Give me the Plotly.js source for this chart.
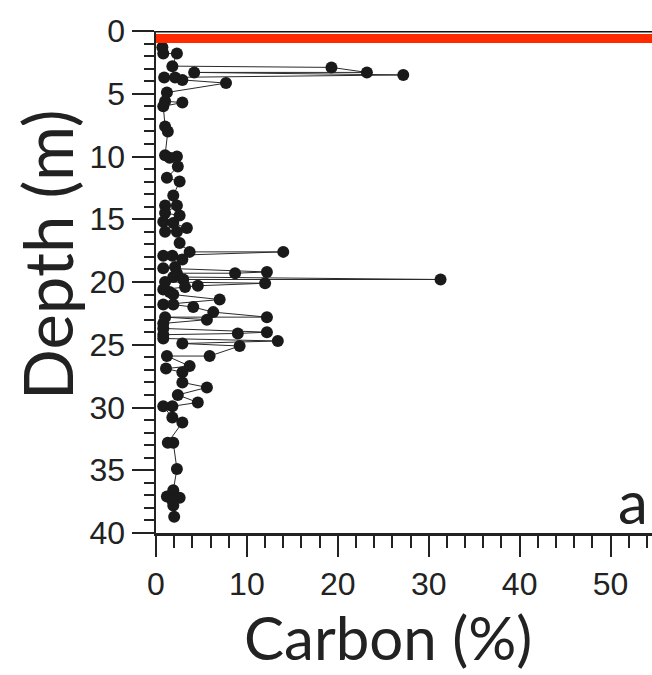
<!DOCTYPE html>
<html>
<head>
<meta charset="utf-8">
<script src="https://cdn.plot.ly/plotly-3.0.1.min.js"></script>
<style>html,body{margin:0;padding:0;background:#fff;}#chart{width:652px;height:675px;}</style>
</head>
<body>
<div id="chart"></div>
<script>
// Depth (m) and Carbon (%), in sampling order
const depth = [1.3, 1.8, 1.8, 2.8, 2.9, 3.3, 3.3, 3.5, 3.7, 3.7, 3.9, 4.15, 4.9, 5.6, 5.7, 6.0, 7.6, 8.0, 9.9, 10.0, 10.1, 10.8, 11.7, 12.0, 13.1, 13.9, 13.9, 14.5, 14.7, 15.2, 15.3, 15.7, 16.0, 16.0, 16.9, 17.6, 17.6, 17.9, 17.9, 18.2, 18.8, 18.9, 19.2, 19.3, 19.3, 19.6, 19.8, 19.8, 20.0, 20.1, 20.3, 20.4, 20.6, 20.8, 21.0, 21.4, 21.8, 21.8, 22.0, 22.4, 22.8, 22.8, 23.0, 23.3, 23.7, 24.0, 24.1, 24.2, 24.5, 24.7, 24.9, 25.1, 25.9, 25.9, 26.7, 26.9, 27.2, 28.0, 28.4, 29.0, 29.6, 29.9, 29.9, 30.8, 31.2, 32.8, 32.8, 34.9, 36.6, 37.1, 37.2, 37.4, 37.8, 38.7];
const carbon = [0.7, 0.8, 2.3, 1.8, 19.3, 23.2, 4.2, 27.2, 0.9, 2.1, 2.9, 7.7, 1.2, 1.0, 2.9, 0.8, 1.0, 1.3, 1.0, 2.3, 1.5, 2.4, 1.2, 2.6, 1.9, 1.0, 2.3, 1.0, 2.6, 0.8, 1.9, 3.4, 1.0, 2.3, 2.6, 3.7, 14.0, 0.8, 1.8, 2.9, 2.1, 0.8, 12.2, 8.7, 2.3, 1.9, 31.3, 3.0, 1.0, 12.0, 4.6, 3.2, 0.8, 1.5, 1.9, 7.0, 0.8, 1.9, 4.1, 6.3, 12.2, 1.0, 5.6, 0.8, 0.8, 12.2, 9.0, 0.8, 0.8, 13.4, 2.9, 9.2, 5.9, 1.2, 3.7, 1.1, 2.9, 2.9, 5.6, 2.4, 4.6, 1.8, 0.8, 1.8, 2.9, 1.3, 1.9, 2.3, 1.9, 1.2, 2.6, 1.8, 1.9, 2.0];
const xTicks = [0, 10, 20, 30, 40, 50];
const yTicks = [0, 5, 10, 15, 20, 25, 30, 35, 40];
const redLineDepth = 0.6;

const trace = {
  x: carbon, y: depth, type: 'scatter', mode: 'lines+markers',
  line: {color: '#2a2a2a', width: 1},
  marker: {color: '#1a1a1a', size: 12},
  hoverinfo: 'x+y', showlegend: false
};

const tickFont = {family: 'Liberation Sans, Arial, sans-serif', size: 32, color: '#222'};

const layout = {
  width: 652, height: 675,
  margin: {l: 156, r: 0, t: 31, b: 142},
  paper_bgcolor: '#fff', plot_bgcolor: '#fff',
  showlegend: false,
  xaxis: {
    range: [0, 54.56], tickvals: xTicks, ticktext: xTicks.map(String),
    ticks: 'outside', ticklen: 21, tickwidth: 2, tickcolor: '#222',
    minor: {dtick: 2, tick0: 0, ticks: 'outside', ticklen: 12, tickwidth: 2, tickcolor: '#222', showgrid: false},
    showgrid: false, zeroline: false, showline: true, linecolor: '#222', linewidth: 2.5,
    tickfont: tickFont, fixedrange: true
  },
  yaxis: {
    range: [40, 0], tickvals: yTicks, ticktext: yTicks.map(String),
    ticks: 'outside', ticklen: 22, tickwidth: 2, tickcolor: '#222',
    minor: {dtick: 1, tick0: 0, ticks: 'outside', ticklen: 10, tickwidth: 2, tickcolor: '#222', showgrid: false},
    showgrid: false, zeroline: false, showline: true, linecolor: '#222', linewidth: 2.5,
    tickfont: tickFont, fixedrange: true
  },
  shapes: [
    {type: 'line', xref: 'paper', yref: 'y', x0: 0, x1: 1, y0: 0, y1: 0, line: {color: '#111', width: 3}},
    {type: 'line', xref: 'paper', yref: 'y', x0: 0, x1: 1, y0: redLineDepth, y1: redLineDepth, line: {color: '#ff2a00', width: 9}}
  ],
  annotations: [
    {text: 'Carbon (%)', xref: 'paper', yref: 'paper', x: (388 - 156) / 496, y: -0.208, xanchor: 'center', yanchor: 'middle', showarrow: false, font: {family: 'Lato, sans-serif', size: 60, color: '#222'}},
    {text: 'Depth (m)', xref: 'paper', yref: 'paper', x: (47 - 156) / 496, y: (533 - 255) / 502, xanchor: 'center', yanchor: 'middle', textangle: -90, showarrow: false, font: {family: 'Lato, sans-serif', size: 67, color: '#222'}},
    {text: 'a', xref: 'paper', yref: 'paper', x: 1, y: 0, xanchor: 'right', yanchor: 'bottom', xshift: -2, yshift: -6, showarrow: false, font: {family: 'Lato, sans-serif', size: 60, color: '#222'}}
  ]
};

Plotly.newPlot('chart', [trace], layout, {displayModeBar: false, staticPlot: true});
</script>
</body>
</html>
